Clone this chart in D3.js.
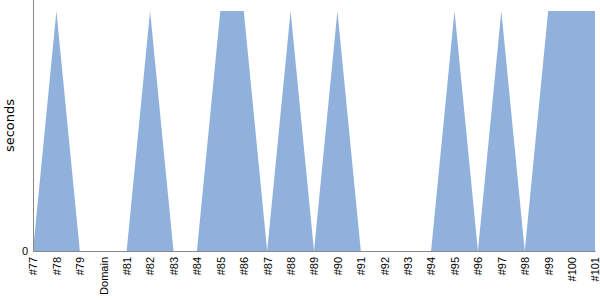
<!DOCTYPE html>
<html>
<head>
<meta charset="utf-8">
<script src="https://cdn.jsdelivr.net/npm/d3@7"></script>
<style>
  body { margin: 0; background: #fff; }
  svg { font-family: "DejaVu Sans", sans-serif; }
  .axis .domain { stroke: #888; }
  .axis text { fill: #000; font-size: 11px; }
</style>
</head>
<body>
<svg width="600" height="300"></svg>
<script>
(function (d3) {
    'use strict';

    var builds = ['#77', '#78', '#79', 'Domain', '#81', '#82', '#83', '#84', '#85', '#86',
        '#87', '#88', '#89', '#90', '#91', '#92', '#93', '#94', '#95', '#96',
        '#97', '#98', '#99', '#100', '#101'];
    var seconds = [0, 1, 0, 0, 0, 1, 0, 0, 1, 1,
        0, 1, 0, 1, 0, 0, 0, 0, 1, 0,
        1, 0, 1, 1, 1];
    var yTicks = [0];

    var svg = d3.select('svg'),
        margin = { top: 0, right: 5, bottom: 49, left: 33 },
        width = svg.attr('width') - margin.left - margin.right,
        height = svg.attr('height') - margin.top - margin.bottom;

    var data = builds.map(function (b, i) { return { build: b, value: seconds[i] }; });

    var x = d3.scalePoint().domain(builds).range([0, width]),
        y = d3.scaleLinear().domain([0, 1]).range([height, 11]);

    var area = d3.area()
        .x(function (d) { return x(d.build); })
        .y0(height)
        .y1(function (d) { return y(d.value); });

    var g = svg.append('g')
        .attr('transform', 'translate(' + margin.left + ',' + margin.top + ')');

    g.append('path')
        .datum(data)
        .attr('fill', '#8fb1db')
        .attr('d', area);

    var xAxis = g.append('g')
        .attr('class', 'axis axis--x')
        .attr('transform', 'translate(0,' + height + ')')
        .call(d3.axisBottom(x).tickSize(0).tickPadding(0));

    xAxis.selectAll('text')
        .attr('transform', 'rotate(-90)')
        .attr('text-anchor', 'end')
        .attr('x', -6)
        .attr('y', 0)
        .attr('dy', '0.35em');

    var yAxis = g.append('g')
        .attr('class', 'axis axis--y')
        .call(d3.axisLeft(y).tickValues(yTicks).tickFormat(d3.format('d')).tickSize(0).tickPadding(5));

    // axis line runs to the top edge of the plot
    yAxis.select('.domain').attr('d', 'M0.5,0V' + (height + 0.5));

    svg.append('text')
        .attr('transform', 'translate(14,' + (height / 2) + ') rotate(-90)')
        .attr('text-anchor', 'middle')
        .style('font-size', '13px')
        .text('seconds');
})(window.d3);
</script>
</body>
</html>
